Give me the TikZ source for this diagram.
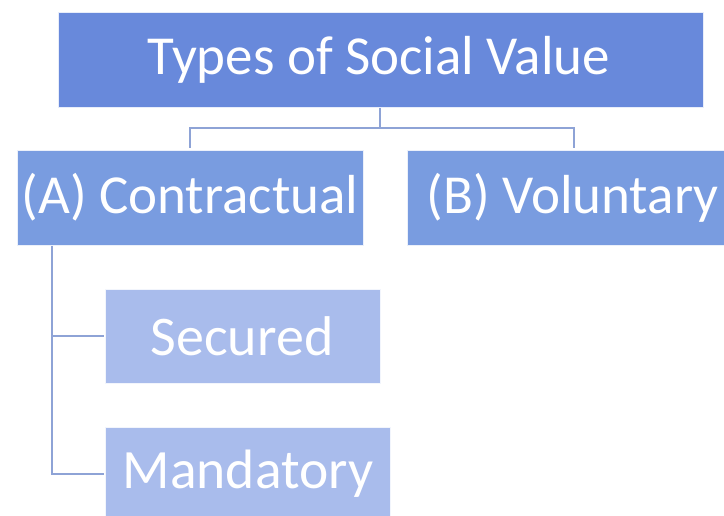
\documentclass[tikz,border=0pt]{standalone}
\usepackage{fontspec}
\setmainfont{Carlito}
\definecolor{lvlone}{HTML}{6889DB}
\definecolor{lvltwo}{HTML}{799CE0}
\definecolor{lvlthree}{HTML}{A9BCEC}
\definecolor{linkc}{HTML}{8EA3D6}
\begin{document}
\begin{tikzpicture}[x=1pt,y=-1pt,
  boxa/.style={fill=lvlone,draw=white!85!lvlone,line width=0.8pt},
  boxb/.style={fill=lvltwo,draw=white!85!lvltwo,line width=0.8pt},
  boxc/.style={fill=lvlthree,draw=white!85!lvlthree,line width=0.8pt},
  lbl/.style={text=white,inner sep=0pt},
  link/.style={draw=linkc,line width=2.5pt}]
\useasboundingbox (0,0) rectangle (724,516);
\fill[white] (0,0) rectangle (724,516);
% boxes
\draw[boxa] (58,12) rectangle (703,107);
\node[lbl,font=\fontsize{55}{60}\selectfont] (top) at (379,60) {Types of Social Value};
\draw[boxb] (17,150) rectangle (363,245);
\node[lbl,font=\fontsize{55}{60}\selectfont] (con) at (190,197.5) {(A) Contractual};
\draw[boxb] (407,150) rectangle (730,245);
\node[lbl,font=\fontsize{55}{60}\selectfont] (vol) at (572.5,197.5) {(B) Voluntary};
\draw[boxc] (105,289) rectangle (380,383);
\node[lbl,font=\fontsize{56}{60}\selectfont] (sec) at (242,336) {Secured};
\draw[boxc] (105,427) rectangle (390,522);
\node[lbl,font=\fontsize{55.5}{62}\selectfont] (man) at (248,474) {Mandatory};
% connectors
\coordinate (tb) at (380,108);
\coordinate (cb) at (52,246);
\draw[link] (tb) -- (380,128) -| (190,148);
\draw[link] (380,128) -| (574,148);
\draw[link] (cb) |- (104,474);
\draw[link] (52,336) -- (104,336);
\end{tikzpicture}
\end{document}
